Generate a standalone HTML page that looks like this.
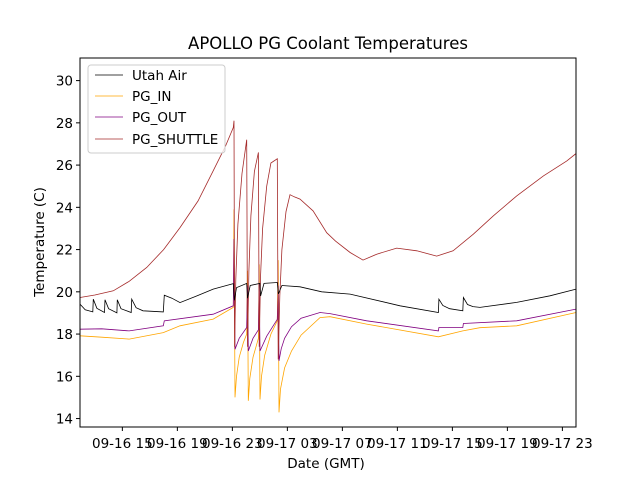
<!DOCTYPE html>
<html><head><meta charset="utf-8"><style>
html,body{margin:0;padding:0;background:#fff;}
svg{display:block;font-family:"DejaVu Sans","Liberation Sans",sans-serif;}
</style></head><body>
<svg id="chart" width="640" height="480">
<rect width="640" height="480" fill="#fff"/>
<text x="328" y="49" font-size="16.5" text-anchor="middle">APOLLO PG Coolant Temperatures</text>
<g id="series"></g>
<g id="axes"></g>
<rect x="80" y="58" width="496" height="369" fill="none" stroke="#000" stroke-width="1"/>
<text x="326" y="468" font-size="13.5" text-anchor="middle">Date (GMT)</text>
<text transform="translate(44,242) rotate(-90)" font-size="13.5" text-anchor="middle">Temperature (C)</text>
<g>
<rect x="88" y="65" width="137" height="88" rx="3" fill="#fff" fill-opacity="0.8" stroke="#ccc"/>
<line x1="95" y1="75" x2="123" y2="75" stroke="#000" stroke-width="0.8"/>
<text x="132" y="80" font-size="13.5">Utah Air</text>
<line x1="95" y1="96" x2="123" y2="96" stroke="#ffa500" stroke-width="0.8"/>
<text x="132" y="101" font-size="13.5">PG_IN</text>
<line x1="95" y1="117" x2="123" y2="117" stroke="#800080" stroke-width="0.8"/>
<text x="132" y="122" font-size="13.5">PG_OUT</text>
<line x1="95" y1="139" x2="123" y2="139" stroke="#a52a2a" stroke-width="0.8"/>
<text x="132" y="144" font-size="13.5">PG_SHUTTLE</text>
</g>
</svg>
<script>
// hours since 09-16 00:00 GMT
const yTicks = [14,16,18,20,22,24,26,28,30];
const xTickHours = [15,19,23,27,31,35,39,43,47];
const xTickLabels = ["09-16 15","09-16 19","09-16 23","09-17 03","09-17 07","09-17 11","09-17 15","09-17 19","09-17 23"];

const airT = [11.92,12.3,12.85,12.89,13.15,13.7,13.74,14.0,14.6,14.63,14.9,15.64,15.68,16.0,16.5,17.98,18.05,18.6,19.19,20.4,21.61,23.07,23.15,23.3,24.04,24.1,24.3,25.0,25.05,25.3,26.27,26.35,26.6,27.92,29.5,31.56,35.19,37.98,38.02,38.3,38.8,39.76,39.8,40.1,40.5,41.01,43.68,46.1,48];
const airV = [19.42,19.15,19.05,19.65,19.22,19.02,19.62,19.2,19.0,19.62,19.2,19.02,19.65,19.25,19.1,19.05,19.84,19.7,19.49,19.8,20.13,20.39,19.6,20.2,20.4,19.7,20.3,20.4,19.8,20.4,20.44,19.9,20.3,20.24,20.0,19.89,19.34,19.02,19.65,19.35,19.2,19.1,19.73,19.4,19.3,19.26,19.5,19.81,20.13];

const inT = [11.92,13.5,15.5,17.98,19.19,21.61,23.07,23.12,23.19,23.3,23.5,23.8,24.04,24.1,24.16,24.27,24.5,24.89,24.95,25.01,25.12,25.35,25.8,26.27,26.33,26.39,26.5,26.8,27.3,28.0,29.37,30.1,32.77,37.98,39.76,41.0,43.68,48];
const inV = [17.92,17.85,17.76,18.07,18.39,18.71,19.26,23.9,15.0,16.0,16.9,17.6,18.0,21.0,14.84,15.9,16.9,17.8,21.3,14.9,16.0,17.0,18.0,18.63,21.5,14.29,15.4,16.4,17.2,17.95,18.78,18.82,18.47,17.87,18.15,18.3,18.39,19.02];

const outT = [11.92,13.5,15.5,17.98,18.05,21.61,23.07,23.12,23.19,23.5,24.04,24.1,24.16,24.5,24.89,24.95,25.01,25.5,26.27,26.33,26.39,26.55,26.8,27.3,28.0,29.37,30.1,32.77,37.98,38.02,39.76,39.8,43.68,48];
const outV = [18.23,18.25,18.15,18.39,18.63,18.94,19.34,22.5,17.28,17.8,18.31,20.3,17.2,17.8,18.2,20.4,17.2,17.9,18.7,20.3,16.73,17.3,17.8,18.35,18.75,19.02,18.97,18.63,18.15,18.31,18.31,18.5,18.63,19.18];

const shT = [11.92,13.0,14.34,15.5,16.77,18.0,19.19,20.5,21.61,22.5,23.07,23.12,23.16,23.25,23.4,23.7,24.04,24.1,24.2,24.35,24.6,24.89,24.95,25.05,25.2,25.5,25.8,26.27,26.33,26.45,26.6,26.9,27.19,27.5,27.92,28.87,29.86,30.5,31.56,32.5,33.5,34.95,36.41,37.86,39.05,40.52,41.98,43.68,45.62,47.32,48];
const shV = [19.73,19.85,20.05,20.5,21.15,22.0,23.04,24.3,25.73,26.9,27.78,28.1,17.4,20.6,23.2,25.6,27.2,17.4,21.0,23.6,25.7,26.6,17.4,20.8,23.0,25.0,26.1,26.3,16.8,19.8,22.0,23.8,24.6,24.5,24.39,23.83,22.8,22.4,21.86,21.5,21.78,22.07,21.94,21.69,21.94,22.73,23.6,24.54,25.49,26.2,26.55];

const X0=80,X1=576,Y0=58,Y1=427;
const xMin=11.92,xMax=47.99,yMin=13.6,yMax=31.07;
const sx=h=>X0+(h-xMin)/(xMax-xMin)*(X1-X0);
const sy=v=>Y1-(v-yMin)/(yMax-yMin)*(Y1-Y0);
const NS="http://www.w3.org/2000/svg";
const sg=document.getElementById('series'), ag=document.getElementById('axes');

function drawLine(t,v,color,name){
  const p=document.createElementNS(NS,'path');
  let d='';
  for(let i=0;i<t.length;i++) d+=(i?'L':'M')+sx(t[i]).toFixed(1)+','+sy(v[i]).toFixed(1);
  p.setAttribute('d',d);
  p.setAttribute('fill','none');
  p.setAttribute('stroke',color);
  p.setAttribute('stroke-width','0.8');
  
  
  sg.appendChild(p);
}
drawLine(inT,inV,'#ffa500','pg-in-line');
drawLine(outT,outV,'#800080','pg-out-line');
drawLine(shT,shV,'#a52a2a','pg-shuttle-line');
drawLine(airT,airV,'#000000','utah-air-line');

yTicks.forEach(v=>{
  const y=sy(v);
  const l=document.createElementNS(NS,'line');
  l.setAttribute('x1',X0-4);l.setAttribute('x2',X0);l.setAttribute('y1',y);l.setAttribute('y2',y);
  l.setAttribute('stroke','#000');
  
  
  ag.appendChild(l);
  const t=document.createElementNS(NS,'text');
  t.setAttribute('x',X0-7);t.setAttribute('y',y+5);t.setAttribute('font-size','13.5');t.setAttribute('text-anchor','end');
  t.textContent=v;
  
  
  ag.appendChild(t);
});
xTickHours.forEach((h,i)=>{
  const x=sx(h);
  const l=document.createElementNS(NS,'line');
  l.setAttribute('x1',x);l.setAttribute('x2',x);l.setAttribute('y1',Y1);l.setAttribute('y2',Y1+4);
  l.setAttribute('stroke','#000');
  
  
  ag.appendChild(l);
  const t=document.createElementNS(NS,'text');
  t.setAttribute('x',x);t.setAttribute('y',448);t.setAttribute('font-size','13.5');t.setAttribute('text-anchor','middle');
  t.textContent=xTickLabels[i];
  
  
  ag.appendChild(t);
});
</script>
</body></html>
